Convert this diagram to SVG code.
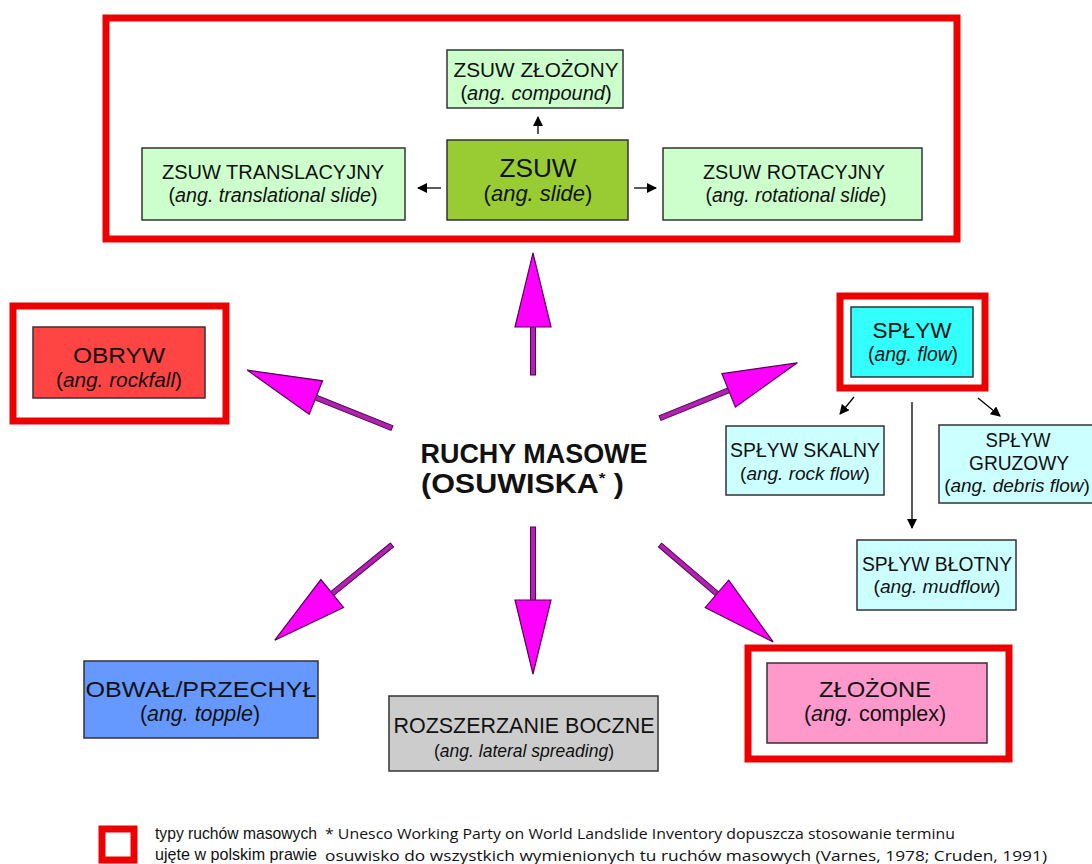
<svg xmlns="http://www.w3.org/2000/svg" width="1092" height="864" viewBox="0 0 1092 864">
<defs>
<marker id="ah" viewBox="0 0 10 10" refX="9" refY="5" markerWidth="10" markerHeight="10" markerUnits="userSpaceOnUse" orient="auto">
<path d="M0,0 L10,5 L0,10 Z" fill="#000"/>
</marker>
<style>
text{font-family:"Liberation Sans",Arial,sans-serif;fill:#111;text-anchor:middle}
.t{font-size:20px}
.big{font-size:22px}
.i{font-style:italic}
.frame{fill:none;stroke:#ee0000;stroke-width:7}
.box{stroke:#333;stroke-width:1.5}
.pg{fill:#ccffcc}
.pc{fill:#ccffff}
.mg{fill:#ff00ff;stroke:#550055;stroke-width:1.2;stroke-linejoin:miter}
.ms{fill:#b022b0;stroke:#550055;stroke-width:1}
.sm{stroke:#000;stroke-width:1.3;fill:none;marker-end:url(#ah)}
.note{font-family:"Open Sans","Liberation Sans",sans-serif;font-size:15px;text-anchor:start}
.leg{font-size:17px;text-anchor:start}
.ctr{font-size:27px;font-weight:bold}
</style>
</defs>
<rect width="1092" height="864" fill="#fff"/>

<rect class="frame" x="106" y="18" width="851" height="221"/>

<g id="zsuw-zlozony">
<rect class="box pg" x="447" y="50" width="176" height="58"/>
<text class="t" x="536" y="77" textLength="165" lengthAdjust="spacingAndGlyphs">ZSUW ZŁOŻONY</text>
<text x="536" y="100" font-size="20">(<tspan class="i">ang. compound</tspan>)</text>
</g>
<g id="zsuw">
<rect class="box" fill="#99cc33" x="447" y="140" width="181" height="80"/>
<text x="538" y="177" font-size="25" textLength="77" lengthAdjust="spacingAndGlyphs">ZSUW</text>
<text x="538" y="201" font-size="22">(<tspan class="i">ang. slide</tspan>)</text>
</g>
<g id="zsuw-translacyjny">
<rect class="box pg" x="142" y="148" width="263" height="72"/>
<text class="t" x="273" y="179" textLength="222" lengthAdjust="spacingAndGlyphs">ZSUW TRANSLACYJNY</text>
<text x="273" y="202" font-size="19.7">(<tspan class="i">ang. translational slide</tspan>)</text>
</g>
<g id="zsuw-rotacyjny">
<rect class="box pg" x="663" y="148" width="259" height="72"/>
<text class="t" x="794" y="179" textLength="182" lengthAdjust="spacingAndGlyphs">ZSUW ROTACYJNY</text>
<text x="796" y="202" font-size="19.4">(<tspan class="i">ang. rotational slide</tspan>)</text>
</g>

<rect class="frame" x="13" y="306" width="213" height="115"/>
<g id="obryw">
<rect class="box" fill="#ff4444" x="33" y="327" width="172" height="71"/>
<text class="big" x="119" y="363" textLength="92" lengthAdjust="spacingAndGlyphs">OBRYW</text>
<text x="119" y="387" font-size="20.8">(<tspan class="i">ang. rockfall</tspan>)</text>
</g>

<rect class="frame" x="840" y="296" width="145" height="92"/>
<g id="splyw">
<rect class="box" fill="#33ffff" x="851" y="307" width="122" height="70"/>
<text class="big" x="912" y="338" textLength="79" lengthAdjust="spacingAndGlyphs">SPŁYW</text>
<text x="913" y="361" font-size="19.3">(<tspan class="i">ang. flow</tspan>)</text>
</g>
<g id="splyw-skalny">
<rect class="box pc" x="726" y="426" width="158" height="69"/>
<text class="t" x="805" y="457" textLength="150" lengthAdjust="spacingAndGlyphs">SPŁYW SKALNY</text>
<text x="805" y="480" font-size="19">(<tspan class="i">ang. rock flow</tspan>)</text>
</g>
<g id="splyw-gruzowy">
<rect class="box pc" x="939" y="425" width="155" height="78"/>
<text class="t" x="1018" y="447" textLength="65" lengthAdjust="spacingAndGlyphs">SPŁYW</text>
<text class="t" x="1019" y="470" textLength="100" lengthAdjust="spacingAndGlyphs">GRUZOWY</text>
<text x="1017" y="492" font-size="19">(<tspan class="i">ang. debris flow</tspan>)</text>
</g>
<g id="splyw-blotny">
<rect class="box pc" x="857" y="540" width="159" height="70"/>
<text class="t" x="937" y="571" textLength="150" lengthAdjust="spacingAndGlyphs">SPŁYW BŁOTNY</text>
<text x="937" y="593" font-size="19.2">(<tspan class="i">ang. mudflow</tspan>)</text>
</g>

<g id="center">
<text class="ctr" x="534" y="463" textLength="227" lengthAdjust="spacingAndGlyphs">RUCHY MASOWE</text>
<text class="ctr" x="421" y="493" style="text-anchor:start" textLength="203" lengthAdjust="spacingAndGlyphs">(OSUWISKA<tspan font-size="15" dy="-10">*</tspan><tspan dy="10"> )</tspan></text>
</g>

<g id="obwal">
<rect class="box" fill="#6699ff" x="84" y="661" width="234" height="77"/>
<text class="big" x="201" y="697" textLength="231" lengthAdjust="spacingAndGlyphs">OBWAŁ/PRZECHYŁ</text>
<text x="200" y="721" font-size="21.4">(<tspan class="i">ang. topple</tspan>)</text>
</g>
<g id="rozszerzanie">
<rect class="box" fill="#cccccc" x="389" y="696" width="269" height="75"/>
<text class="big" x="524" y="733" textLength="261" lengthAdjust="spacingAndGlyphs">ROZSZERZANIE BOCZNE</text>
<text x="524" y="757" font-size="17.5">(<tspan class="i">ang. lateral spreading</tspan>)</text>
</g>
<rect class="frame" x="748" y="648" width="261" height="111"/>
<g id="zlozone">
<rect class="box" fill="#ff99cc" x="767" y="663" width="220" height="80"/>
<text class="big" x="875" y="697" textLength="112" lengthAdjust="spacingAndGlyphs">ZŁOŻONE</text>
<text x="875" y="721" font-size="21.5">(<tspan class="i">ang.</tspan> complex)</text>
</g>

<g id="connectors">
<line class="sm" x1="538" y1="134" x2="538" y2="117"/>
<line class="sm" x1="441" y1="188" x2="418" y2="188"/>
<line class="sm" x1="634" y1="188" x2="656" y2="188"/>
<line class="sm" x1="854" y1="397" x2="840" y2="414"/>
<line class="sm" x1="978" y1="398" x2="1000" y2="416"/>
<line class="sm" x1="912" y1="402" x2="912" y2="528"/>
<g transform="translate(533,375) rotate(-90)"><rect class="ms" x="0" y="-2.5" width="49" height="5"/><polygon class="mg" points="48,-18 122,0 48,18"/></g>
<g transform="translate(392,428) rotate(-158.2)"><rect class="ms" x="0" y="-2.5" width="83" height="5"/><polygon class="mg" points="82,-18 156,0 82,18"/></g>
<g transform="translate(660,418) rotate(-21.9)"><rect class="ms" x="0" y="-2.5" width="75" height="5"/><polygon class="mg" points="74,-18 148,0 74,18"/></g>
<g transform="translate(392,545) rotate(140.9)"><rect class="ms" x="0" y="-2.5" width="78" height="5"/><polygon class="mg" points="77,-18 151,0 77,18"/></g>
<g transform="translate(533,527) rotate(90)"><rect class="ms" x="0" y="-2.5" width="74" height="5"/><polygon class="mg" points="73,-18 147,0 73,18"/></g>
<g transform="translate(660,545) rotate(40.6)"><rect class="ms" x="0" y="-2.5" width="76" height="5"/><polygon class="mg" points="75,-18 149,0 75,18"/></g>
</g>

<g id="legend">
<rect x="102" y="829" width="32" height="31" fill="none" stroke="#ee0000" stroke-width="7"/>
<text class="leg" x="155" y="839" textLength="162" lengthAdjust="spacingAndGlyphs">typy ruchów masowych</text>
<text class="leg" x="155" y="860" textLength="162" lengthAdjust="spacingAndGlyphs">ujęte w polskim prawie</text>
<text class="note" x="325" y="839" textLength="630" lengthAdjust="spacingAndGlyphs">* Unesco Working Party on World Landslide Inventory dopuszcza stosowanie terminu</text>
<text class="note" x="325" y="861" textLength="722" lengthAdjust="spacingAndGlyphs">osuwisko do wszystkich wymienionych tu ruchów masowych (Varnes, 1978; Cruden, 1991)</text>
</g>
</svg>
